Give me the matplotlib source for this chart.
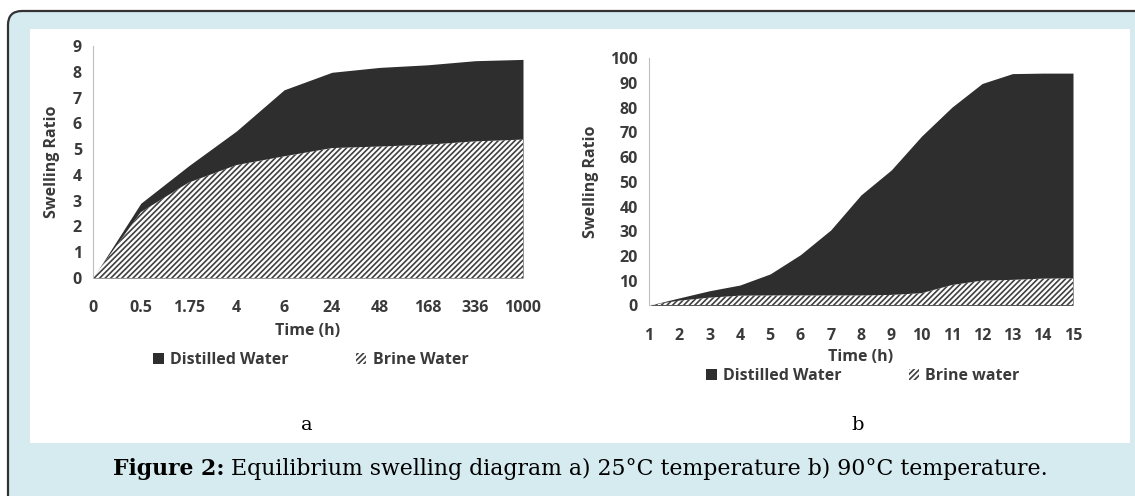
import matplotlib
matplotlib.use("Agg")
import matplotlib.pyplot as plt
from matplotlib.patches import FancyBboxPatch, Rectangle, Patch

# data
times_a = ["0", "0.5", "1.75", "4", "6", "24", "48", "168", "336", "1000"]
distilled_a = [0, 2.9, 4.35, 5.7, 7.3, 7.98, 8.17, 8.27, 8.43, 8.48]
brine_a = [0, 2.55, 3.7, 4.38, 4.72, 5.04, 5.1, 5.17, 5.3, 5.37]

times_b = list(range(1, 16))
distilled_b = [0, 3.0, 5.9, 8.2, 12.7, 20.5, 30.5, 44.7, 54.8, 68.5, 80.2, 89.8, 93.8, 94.0, 94.0]
brine_b = [0, 1.9, 3.1, 3.9, 4.0, 4.0, 4.0, 4.0, 4.2, 4.9, 8.2, 10.0, 10.3, 10.8, 10.9]

W, H = 1135, 496
dark = "#2e2e2e"
hcol = "#404040"
txt = "#3a3a3a"
fs = 11.5
plt.rcParams["font.family"] = ["Open Sans", "DejaVu Sans"]
plt.rcParams["hatch.linewidth"] = 1.2
plt.rcParams["hatch.color"] = hcol

fig = plt.figure(figsize=(W / 100, H / 100), dpi=100)
fig.patch.set_facecolor("white")

# background frame, drawn in pixel units
bg = fig.add_axes([0, 0, 1, 1])
bg.set_xlim(0, W)
bg.set_ylim(H, 0)
bg.axis("off")
bg.add_patch(FancyBboxPatch((8, 11), W + 40, H + 20, boxstyle="round,pad=0,rounding_size=14",
                            facecolor="#d6ebf0", edgecolor="#333333", linewidth=1.6))
bg.add_patch(Rectangle((30, 29), 1100, 414, facecolor="white", edgecolor="none"))
bg.text(307, 425, "a", ha="center", va="center", fontsize=14, family="DejaVu Serif")
bg.text(858, 425, "b", ha="center", va="center", fontsize=14, family="DejaVu Serif")
cap = bg.text(113, 469, "Figure 2:", ha="left", va="center", fontsize=15.8,
              family="DejaVu Serif", fontweight="bold")
bg.annotate(" Equilibrium swelling diagram a) 25°C temperature b) 90°C temperature.",
            xycoords=cap, xy=(1, 0.5), va="center", ha="left", fontsize=15.8,
            family="DejaVu Serif")


def style(ax, ylim, yticks):
    ax.set_ylim(*ylim)
    ax.set_yticks(yticks)
    for s in ["top", "right", "bottom"]:
        ax.spines[s].set_visible(False)
    ax.spines["left"].set_color("#bfbfbf")
    ax.tick_params(length=0, labelsize=fs, labelcolor=txt, pad=8)
    for lab in ax.get_xticklabels() + ax.get_yticklabels():
        lab.set_fontweight("bold")
    ax.set_facecolor("none")


def legend(labels, x, y):
    hs = [Patch(facecolor=dark, edgecolor="none", label=labels[0]),
          Patch(facecolor="white", edgecolor=hcol, linewidth=0, hatch="//////", label=labels[1])]
    fig.legend(handles=hs, loc="center", bbox_to_anchor=(x / W, 1 - y / H), ncol=2,
               frameon=False, handlelength=0.65, handleheight=0.65, handletextpad=0.4,
               columnspacing=4.2, prop={"weight": "bold", "size": fs}, labelcolor=txt)


# chart a
axa = fig.add_axes([93 / W, 1 - 278 / H, 430 / W, 232 / H])
xa = list(range(len(times_a)))
axa.fill_between(xa, 0, distilled_a, color=dark, linewidth=0)
axa.fill_between(xa, 0, brine_a, facecolor="white", hatch="//////", edgecolor=hcol, linewidth=0)
axa.set_xlim(0, len(times_a) - 1)
axa.set_xticks(xa)
axa.set_xticklabels(times_a)
style(axa, (0, 9), range(0, 10))
axa.tick_params(axis="x", pad=16)
axa.set_xlabel("Time (h)", fontsize=fs, fontweight="bold", color=txt, labelpad=5)
axa.set_ylabel("Swelling Ratio", fontsize=fs, fontweight="bold", color=txt, labelpad=9)
legend(["Distilled Water", "Brine Water"], 311, 360)

# chart b
axb = fig.add_axes([649 / W, 1 - 305.3 / H, 424 / W, 247 / H])
axb.fill_between(times_b, 0, distilled_b, color=dark, linewidth=0)
axb.fill_between(times_b, 0, brine_b, facecolor="white", hatch="//////", edgecolor=hcol, linewidth=0)
axb.set_xlim(1, 15)
axb.set_xticks(times_b)
style(axb, (0, 100), range(0, 101, 10))
axb.tick_params(axis="x", pad=16)
axb.set_xlabel("Time (h)", fontsize=fs, fontweight="bold", color=txt, labelpad=4)
axb.set_ylabel("Swelling Ratio", fontsize=fs, fontweight="bold", color=txt, labelpad=8)
legend(["Distilled Water", "Brine water"], 863, 376)

fig.savefig("out.png", dpi=100)
